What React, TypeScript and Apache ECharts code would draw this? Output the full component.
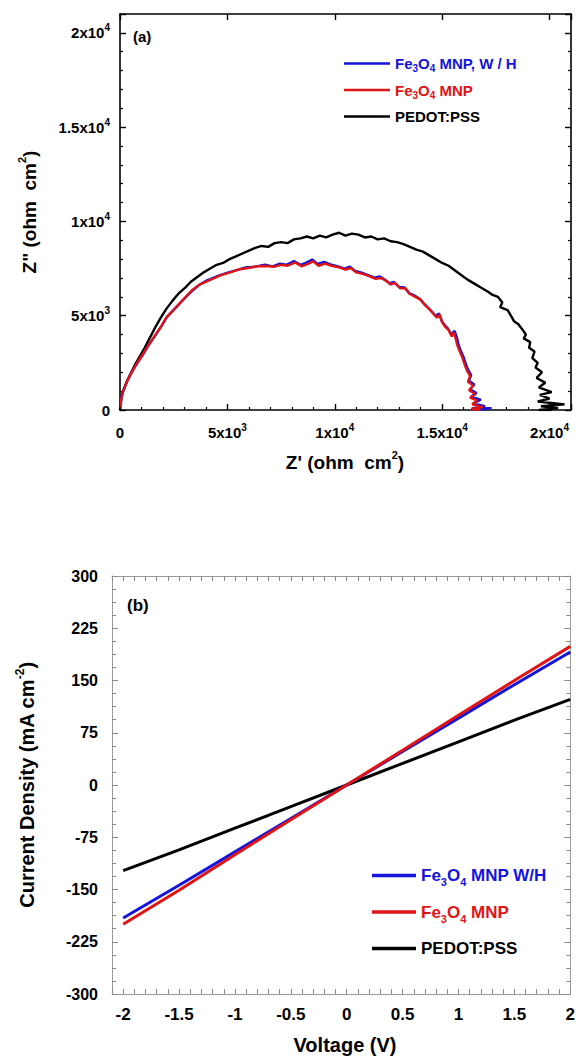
import React, { useEffect, useRef } from 'react';
import * as echarts from 'echarts';

const FONT = '"Liberation Sans", Arial, sans-serif';

// ---------- (a) Nyquist data: [Z', Z''] (ohm cm^2) ----------
const nyqBlue: number[][] = [
  [40, 300], [80, 800], [160, 1050], [320, 1500], [520, 1950], [780, 2450], [1050, 2900], [1300, 3380],
  [1620, 3920], [1930, 4450], [2200, 4950], [2550, 5380], [2950, 5850], [3300, 6250], [3650, 6600],
  [4050, 6880], [4600, 7120], [5050, 7300], [5450, 7420], [5850, 7560], [6300, 7600], [6750, 7700],
  [7100, 7620], [7450, 7760], [7750, 7700], [8100, 7900], [8400, 7700], [8650, 7800], [8950, 7980],
  [9200, 7750], [9500, 7850], [9800, 7720], [10150, 7620], [10450, 7500], [10700, 7600], [10950, 7380],
  [11250, 7280], [11550, 7150], [11850, 7020], [12100, 7080], [12350, 6900], [12550, 6720], [12750, 6800],
  [13000, 6520], [13250, 6500], [13450, 6200], [13700, 6080], [13950, 5900], [14150, 5650], [14350, 5420],
  [14550, 5180], [14700, 4980], [14850, 5120], [14980, 4720], [15120, 4500], [15280, 4300], [15420, 4000],
  [15580, 4200], [15700, 3800], [15750, 3500], [15850, 3200], [16000, 2800], [16100, 2450], [16200, 2150],
  [16350, 1850], [16250, 1550], [16500, 1350], [16300, 1100], [16600, 900], [16350, 700], [16800, 550],
  [16450, 350], [17000, 200], [16400, 80], [17300, 100], [16500, 0],
];

const nyqRed: number[][] = [
  [20, 150], [60, 600], [150, 1000], [300, 1450], [500, 1900], [750, 2400], [1000, 2850], [1275, 3350],
  [1600, 3900], [1900, 4400], [2150, 4900], [2500, 5300], [2900, 5800], [3350, 6350], [3700, 6650],
  [4100, 6850], [4700, 7150], [5100, 7280], [5500, 7450], [5900, 7520], [6400, 7620], [6800, 7640],
  [7200, 7600], [7500, 7700], [7800, 7650], [8150, 7820], [8450, 7620], [8700, 7720], [9000, 7880],
  [9250, 7650], [9550, 7760], [9850, 7650], [10200, 7560], [10500, 7450], [10750, 7520], [11000, 7300],
  [11300, 7220], [11600, 7100], [11900, 6950], [12150, 7000], [12400, 6850], [12600, 6650], [12800, 6750],
  [13050, 6450], [13300, 6450], [13500, 6150], [13750, 6000], [14000, 5850], [14200, 5550], [14400, 5350],
  [14600, 5100], [14750, 4900], [14900, 5050], [15000, 4650], [15150, 4400], [15300, 4250], [15450, 3900],
  [15550, 4100], [15650, 3700], [15700, 3450], [15800, 3150], [15950, 2750], [16050, 2400], [16150, 2100],
  [16300, 1800], [16200, 1500], [16450, 1300], [16250, 1050], [16550, 850], [16300, 650], [16650, 500],
  [16400, 300], [16900, 150], [16350, 50], [16750, 0],
];

const nyqBlack: number[][] = [
  [0, 0], [20, 250], [50, 600], [130, 950], [280, 1400], [480, 1900], [720, 2450], [950, 2900],
  [1150, 3300], [1400, 3850], [1650, 4400], [1900, 4900], [2150, 5350], [2450, 5800], [2750, 6200],
  [3050, 6500], [3300, 6800], [3600, 7050], [3900, 7300], [4200, 7500], [4500, 7700], [4800, 7800],
  [5100, 8000], [5400, 8150], [5700, 8300], [6000, 8450], [6300, 8600], [6600, 8700], [6900, 8650],
  [7200, 8850], [7500, 8900], [7800, 8850], [8100, 9050], [8400, 9100], [8700, 9200], [9000, 9100],
  [9300, 9250], [9600, 9150], [9900, 9300], [10200, 9400], [10500, 9250], [10800, 9350], [11100, 9300],
  [11400, 9150], [11700, 9200], [12000, 9050], [12300, 9100], [12600, 8950], [12900, 8900], [13200, 8800],
  [13500, 8650], [13800, 8500], [14100, 8400], [14400, 8200], [14700, 8000], [15000, 7800], [15300, 7650],
  [15600, 7400], [15900, 7150], [16200, 6900], [16500, 6700], [16800, 6500], [17100, 6300], [17350, 6100],
  [17600, 6000], [17800, 5700], [17700, 5450], [18050, 5300], [18200, 5000], [18350, 4700], [18550, 4550],
  [18750, 4250], [18900, 4000], [18800, 3800], [19100, 3600], [19050, 3300], [19300, 3100], [19200, 2750],
  [19450, 2500], [19350, 2250], [19650, 2000], [19400, 1700], [19800, 1450], [19500, 1200], [20100, 950],
  [19550, 800], [20000, 600], [19450, 450], [20700, 300], [19600, 200], [20400, 100], [19500, 0], [20100, 0],
];

// ---------- (b) J-V data ----------
const voltage = [-2, -1.5, -1, -0.5, 0, 0.5, 1, 1.5, 2];
const jBlue = [-191, -144, -96, -48, 0, 48, 96, 144, 191];
const jRed = [-200, -151, -100, -50, 0, 50, 100, 150, 199];
const jBlack = [-123, -93, -62, -31, 0, 31, 62, 93, 123];

const namesA = ['Fe3O4 MNP, W / H', 'Fe3O4 MNP', 'PEDOT:PSS'];
const namesB = ['Fe3O4 MNP W/H', 'Fe3O4 MNP', 'PEDOT:PSS'];

const BLUE = '#1414dc';
const RED = '#e01414';
const BLACK = '#000000';

function sci(v: number): string {
  if (v % 5000 !== 0) return '';
  if (v === 0) return '{m|0}';
  const e = Math.floor(Math.log10(v) + 1e-9);
  const m = Math.round((v / Math.pow(10, e)) * 10) / 10;
  return `{m|${m}x10}{s|${e}}`;
}

function legendFmt(name: string): string {
  const key = name === 'PEDOT:PSS' ? 'k' : name.indexOf('W') >= 0 ? 'b' : 'r';
  if (key === 'k') return `{k|${name}}`;
  return `{${key}|Fe}{${key}s|3}{${key}|O}{${key}s|4}{${key}|${name.slice(5)}}`;
}

function legendRich(fs: number, sfs: number, lh: number) {
  const base = { fontFamily: FONT, fontWeight: 'bold' as const, fontSize: fs, lineHeight: lh };
  const sub = { fontFamily: FONT, fontWeight: 'bold' as const, fontSize: sfs, verticalAlign: 'bottom' as const, lineHeight: lh };
  return {
    b: { ...base, color: BLUE }, bs: { ...sub, color: BLUE },
    r: { ...base, color: RED }, rs: { ...sub, color: RED },
    k: { ...base, color: BLACK },
  };
}

const tickRichA = {
  m: { fontFamily: FONT, fontWeight: 'bold' as const, fontSize: 15, color: '#000', lineHeight: 20 },
  s: { fontFamily: FONT, fontWeight: 'bold' as const, fontSize: 10, color: '#000', verticalAlign: 'top' as const, lineHeight: 20 },
};

const titleRich = (fs: number) => ({
  t: { fontFamily: FONT, fontWeight: 'bold' as const, fontSize: fs, fill: '#000', lineHeight: fs + 6 },
  s: { fontFamily: FONT, fontWeight: 'bold' as const, fontSize: Math.round(fs * 0.6), fill: '#000', verticalAlign: 'top' as const, lineHeight: fs + 6 },
});

export default function App() {
  const ref = useRef<HTMLDivElement>(null);
  useEffect(() => {
    if (!ref.current) return;
    const chart = echarts.init(ref.current, undefined, { renderer: 'svg' });

    const aAxisLine = { show: true, onZero: false, lineStyle: { color: '#000', width: 1.6 } };
    const bAxisLine = { show: true, onZero: false, lineStyle: { color: '#9a9a9a', width: 1 } };
    const aTick = { show: true, inside: true, length: 6, lineStyle: { color: '#000', width: 1.4 } };
    const aMinor = { show: true, splitNumber: 5, length: 3, lineStyle: { color: '#000', width: 1.2 } };
    const bTick = { show: true, inside: true, length: 5, lineStyle: { color: '#8a8a8a', width: 1 } };
    const bMinor = { show: true, splitNumber: 4, length: 4, lineStyle: { color: '#8a8a8a', width: 1 } };

    const option: any = {
      animation: false,
      backgroundColor: '#fff',
      grid: [
        { left: 120, top: 14, width: 451, height: 396, show: false },
        { left: 112, top: 576, width: 460, height: 418, show: false },
      ],
      xAxis: [
        {
          gridIndex: 0, type: 'value', position: 'bottom', min: 0, max: 21000, interval: 5000,
          axisLine: aAxisLine, axisTick: aTick, minorTick: aMinor, splitLine: { show: false },
          axisLabel: { margin: 12, formatter: sci, rich: tickRichA },
        },
        {
          gridIndex: 0, type: 'value', position: 'top', min: 0, max: 21000, interval: 5000,
          axisLine: aAxisLine, axisTick: aTick, splitLine: { show: false }, axisLabel: { show: false },
        },
        {
          gridIndex: 1, type: 'value', position: 'bottom', min: -2.1, max: 2, interval: 0.1,
          axisLine: bAxisLine, axisTick: bTick, splitLine: { show: false },
          axisLabel: {
            margin: 12, interval: 0, showMinLabel: true, showMaxLabel: true,
            fontFamily: FONT, fontWeight: 'bold', fontSize: 17, color: '#000',
            formatter: (v: number) => {
              const t = Math.round(v * 10);
              if (t % 5 !== 0 || t < -20) return '';
              return String(t / 10);
            },
          },
        },
        {
          gridIndex: 1, type: 'value', position: 'top', min: -2.1, max: 2, interval: 0.1,
          axisLine: bAxisLine, axisTick: bTick, splitLine: { show: false }, axisLabel: { show: false },
        },
      ],
      yAxis: [
        {
          gridIndex: 0, type: 'value', position: 'left', min: 0, max: 21000, interval: 5000,
          axisLine: aAxisLine, axisTick: aTick, minorTick: aMinor, splitLine: { show: false },
          axisLabel: { margin: 10, formatter: sci, rich: tickRichA },
        },
        {
          gridIndex: 0, type: 'value', position: 'right', min: 0, max: 21000, interval: 5000,
          axisLine: aAxisLine, axisTick: aTick, minorTick: aMinor, splitLine: { show: false },
          axisLabel: { show: false },
        },
        {
          gridIndex: 1, type: 'value', position: 'left', min: -300, max: 300, interval: 75,
          axisLine: bAxisLine, axisTick: { ...bTick, length: 6 }, minorTick: bMinor, splitLine: { show: false },
          axisLabel: { margin: 14, fontFamily: FONT, fontWeight: 'bold', fontSize: 16, color: '#000' },
        },
        {
          gridIndex: 1, type: 'value', position: 'right', min: -300, max: 300, interval: 75,
          axisLine: bAxisLine, axisTick: { ...bTick, length: 6 }, minorTick: bMinor, splitLine: { show: false },
          axisLabel: { show: false },
        },
      ],
      legend: [
        {
          data: namesA, left: 339, top: 51, orient: 'vertical', icon: 'rect',
          itemWidth: 46, itemHeight: 2.5, itemGap: 9, selectedMode: false,
          formatter: legendFmt, textStyle: { rich: legendRich(15, 10, 20) },
        },
        {
          data: namesB, left: 367, top: 862, orient: 'vertical', icon: 'rect',
          itemWidth: 44, itemHeight: 3.5, itemGap: 16, selectedMode: false,
          formatter: legendFmt, textStyle: { rich: legendRich(17, 11, 24) },
        },
      ],
      series: [
        { name: namesA[2], type: 'line', xAxisIndex: 0, yAxisIndex: 0, data: nyqBlack, showSymbol: false, symbol: 'none', lineStyle: { color: BLACK, width: 2.4 }, itemStyle: { color: BLACK } },
        { name: namesA[0], type: 'line', xAxisIndex: 0, yAxisIndex: 0, data: nyqBlue, showSymbol: false, symbol: 'none', lineStyle: { color: BLUE, width: 2.4 }, itemStyle: { color: BLUE } },
        { name: namesA[1], type: 'line', xAxisIndex: 0, yAxisIndex: 0, data: nyqRed, showSymbol: false, symbol: 'none', lineStyle: { color: RED, width: 2.4 }, itemStyle: { color: RED } },
        { name: namesB[2], type: 'line', xAxisIndex: 2, yAxisIndex: 2, data: voltage.map((v, i) => [v, jBlack[i]]), showSymbol: false, symbol: 'none', lineStyle: { color: BLACK, width: 3 }, itemStyle: { color: BLACK } },
        { name: namesB[0], type: 'line', xAxisIndex: 2, yAxisIndex: 2, data: voltage.map((v, i) => [v, jBlue[i]]), showSymbol: false, symbol: 'none', lineStyle: { color: BLUE, width: 3 }, itemStyle: { color: BLUE } },
        { name: namesB[1], type: 'line', xAxisIndex: 2, yAxisIndex: 2, data: voltage.map((v, i) => [v, jRed[i]]), showSymbol: false, symbol: 'none', lineStyle: { color: RED, width: 3 }, itemStyle: { color: RED } },
      ],
      graphic: [
        { type: 'text', x: 133, y: 36, style: { text: '(a)', fill: '#000', font: `bold 15px ${FONT}`, verticalAlign: 'middle', align: 'left' } },
        { type: 'text', x: 127, y: 605, style: { text: '(b)', fill: '#000', font: `bold 17px ${FONT}`, verticalAlign: 'middle', align: 'left' } },
        { type: 'text', x: 29, y: 212, rotation: Math.PI / 2, style: { text: '{t|Z" (ohm  cm}{s|2}{t|)}', rich: titleRich(19), align: 'center', verticalAlign: 'middle' } },
        { type: 'text', x: 345, y: 462, style: { text: "{t|Z' (ohm  cm}{s|2}{t|)}", rich: titleRich(19), align: 'center', verticalAlign: 'middle' } },
        { type: 'text', x: 27, y: 785, rotation: Math.PI / 2, style: { text: '{t|Current Density (mA cm}{s|-2}{t|)}', rich: titleRich(20), align: 'center', verticalAlign: 'middle' } },
        { type: 'text', x: 345, y: 1045, style: { text: '{t|Voltage (V)}', rich: titleRich(20), align: 'center', verticalAlign: 'middle' } },
      ],
    };
    chart.setOption(option);
    return () => chart.dispose();
  }, []);
  return <div ref={ref} style={{ position: 'fixed', left: 0, top: 0, width: 578, height: 1058, background: '#fff' }} />;
}
